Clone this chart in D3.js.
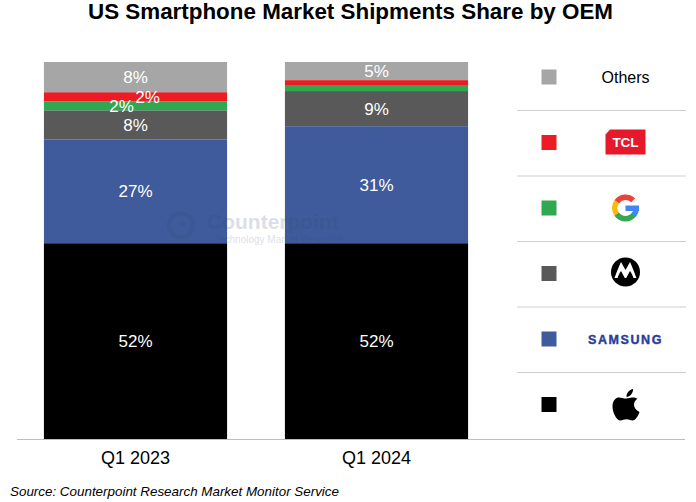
<!DOCTYPE html>
<html>
<head>
<meta charset="utf-8">
<script src="https://cdn.jsdelivr.net/npm/d3@7"></script>
<style>
  body { margin: 0; background: #fff; }
  text { font-family: "Liberation Sans", Arial, sans-serif; }
</style>
</head>
<body>
<div class="chart"></div>
<script>
var quarters = ["Q1 2023", "Q1 2024"];
var oems = ["Apple", "Samsung", "Motorola", "Google", "TCL", "Others"];
var colors = ["#000000", "#3f5b9b", "#595959", "#2fa84f", "#ed1c24", "#a6a6a6"];

// printed labels are rounded
var share2023 = [52, 27.5, 7.7, 2.4, 2.4, 8];
var share2024 = [52, 31, 9.3, 1.4, 1.5, 4.8];
var labels2023 = ["52%", "27%", "8%", "2%", "2%", "8%"];
var labels2024 = ["52%", "31%", "9%", "", "", "5%"];

var width = 696, height = 502;
var shares = [share2023, share2024];
var labels = [labels2023, labels2024];

var rows = quarters.map(function(q, i) {
	var row = {quarter: q};
	oems.forEach(function(o, j) { row[o] = shares[i][j]; });
	return row;
});

var svg = d3.select(".chart").append("svg")
	.attr("width", width)
	.attr("height", height)
	.style("display", "block");

var x = d3.scaleBand().domain(quarters).range([15, 497]).paddingInner(0.24).paddingOuter(0.12);
var y = d3.scaleLinear().domain([0, 100]).range([439.5, 62]);
var stacked = d3.stack().keys(oems)(rows);

svg.append("text")
	.attr("x", 350.5).attr("y", 19)
	.attr("text-anchor", "middle")
	.style("font-size", "22.4px").style("font-weight", "bold")
	.text("US Smartphone Market Shipments Share by OEM");

svg.selectAll("g.series").data(stacked).enter().append("g")
	.attr("class", "series")
	.attr("fill", function(d, i) { return colors[i]; })
	.selectAll("rect").data(function(d) { return d; }).enter().append("rect")
	.attr("x", function(d) { return x(d.data.quarter); })
	.attr("width", x.bandwidth())
	.attr("y", function(d) { return y(d[1]); })
	.attr("height", function(d) { return y(d[0]) - y(d[1]); });

// watermark sits on top of the bars
var mark = svg.append("g").attr("fill", "#2f4470").attr("opacity", 0.17);
mark.append("circle").attr("cx", 181).attr("cy", 225.5).attr("r", 12)
	.attr("fill", "none").attr("stroke", "#2f4470").attr("stroke-width", 4);
mark.append("circle").attr("cx", 183).attr("cy", 224).attr("r", 2.5);
mark.append("text").attr("x", 207).attr("y", 229)
	.style("font-size", "21px").style("font-weight", "bold").text("Counterpoint");
mark.append("text").attr("x", 214).attr("y", 243)
	.style("font-size", "10px").text("Technology Market Research");

// data labels, the two thin 2023 segments are pushed apart
var nudge = {"Q1 2023": {Google: -14, TCL: 12}};
stacked.forEach(function(s, j) {
	s.forEach(function(d, i) {
		if (!labels[i][j]) return;
		var q = d.data.quarter;
		var dx = nudge[q] && nudge[q][s.key] ? nudge[q][s.key] : 0;
		svg.append("text")
			.attr("x", x(q) + x.bandwidth() / 2 + dx)
			.attr("y", (y(d[0]) + y(d[1])) / 2)
			.attr("dy", "0.36em")
			.attr("text-anchor", "middle")
			.attr("fill", "#fff")
			.style("font-size", "17px")
			.text(labels[i][j]);
	});
});

var axis = svg.append("g")
	.attr("transform", "translate(0," + y(0) + ")")
	.call(d3.axisBottom(x).tickSize(0).tickPadding(12));
axis.select(".domain").remove();
axis.selectAll("text")
	.attr("fill", "#000")
	.style("font-size", "18px")
	.style("font-family", '"Liberation Sans", Arial, sans-serif');

// baseline runs on under the legend
svg.append("line")
	.attr("x1", 17).attr("x2", 685)
	.attr("y1", y(0)).attr("y2", y(0))
	.attr("stroke", "#bdbdbd").attr("stroke-width", 1.2);

svg.append("text")
	.attr("x", 10).attr("y", 496)
	.style("font-size", "13.4px").style("font-style", "italic")
	.text("Source: Counterpoint Research Market Monitor Service");

// legend, top row is Others so walk the series backwards
var legendOrder = oems.slice().reverse();
var legendY = d3.scalePoint().domain(legendOrder).range([77, 404.5]);
var legendX = 625.5;

svg.selectAll("line.sep").data(legendOrder.slice(0, 5)).enter().append("line")
	.attr("class", "sep")
	.attr("x1", 517).attr("x2", 686)
	.attr("y1", function(d) { return legendY(d) + 33.5; })
	.attr("y2", function(d) { return legendY(d) + 33.5; })
	.attr("stroke", "#cfcfcf").attr("stroke-width", 1.2);

svg.selectAll("rect.swatch").data(legendOrder).enter().append("rect")
	.attr("class", "swatch")
	.attr("x", 541.5).attr("width", 15).attr("height", 15)
	.attr("y", function(d) { return legendY(d) - 7.5; })
	.attr("fill", function(d) { return colors[oems.indexOf(d)]; });

function logo(name) {
	return svg.append("g").attr("transform", "translate(" + legendX + "," + legendY(name) + ")");
}

logo("Others").append("text")
	.attr("text-anchor", "middle").attr("dy", "0.36em")
	.style("font-size", "16px").text("Others");

var tcl = logo("TCL");
tcl.append("path").attr("d", "M-15.5 -13H20V12H-20V-8Z").attr("fill", "#e5192a");
tcl.append("text").attr("text-anchor", "middle").attr("dy", "0.36em")
	.attr("fill", "#fff").style("font-size", "13.5px").style("font-weight", "bold").text("TCL");

var g = logo("Google");
var ring = d3.arc().innerRadius(8).outerRadius(13.5);
var deg = Math.PI / 180;
[["#ea4335", -55, 45], ["#fbbc05", -125, -55], ["#34a853", -235, -125], ["#4285f4", 90, 130]].forEach(function(a) {
	g.append("path").attr("fill", a[0]).attr("d", ring({startAngle: a[1] * deg, endAngle: a[2] * deg}));
});
g.append("rect").attr("x", 0).attr("y", -2.5).attr("width", 13.5).attr("height", 5.5).attr("fill", "#4285f4");

var moto = logo("Motorola").attr("transform", "translate(" + legendX + "," + (legendY("Motorola") - 1.5) + ")");
moto.append("circle").attr("r", 14.5).attr("fill", "#000");
moto.append("path").attr("fill", "#fff")
	.attr("d", "M-11 6C-8 -2 -6 -7 -4.5 -10L0 -2L4.5 -10C6 -7 8 -2 11 6L8 6C7 3 6 1 4.5 -1L0.7 6H-0.7L-4.5 -1C-6 1 -7 3 -8 6Z");

logo("Samsung").append("text")
	.attr("text-anchor", "middle").attr("dy", "0.36em")
	.attr("fill", "#2a3c9c").attr("stroke", "#2a3c9c").attr("stroke-width", 0.4)
	.style("font-size", "12.5px").style("font-weight", "bold").style("letter-spacing", "1.6px")
	.text("SAMSUNG");

logo("Apple").append("path").attr("fill", "#000")
	.attr("transform", "translate(-13,-16)")
	.attr("d", "M14 10C10 10 8 8.5 6 9C2 9.5 0 13.5 0 18C0 24 4 32 8 32C10 32 11.5 30.8 14 30.8C16.5 30.8 17.5 32 20 32C23 32 26 27 27 23.5C23.5 22 21.5 19 21.5 16C21.5 13.5 23 11.5 25 10.2C23 9 21 8.8 19.5 9C17.5 9.2 16 10 14 10ZM14 8.5C13.8 4.5 17 1 20.5 0.5C20.8 4.5 17.5 8.3 14 8.5Z");
</script>
</body>
</html>
